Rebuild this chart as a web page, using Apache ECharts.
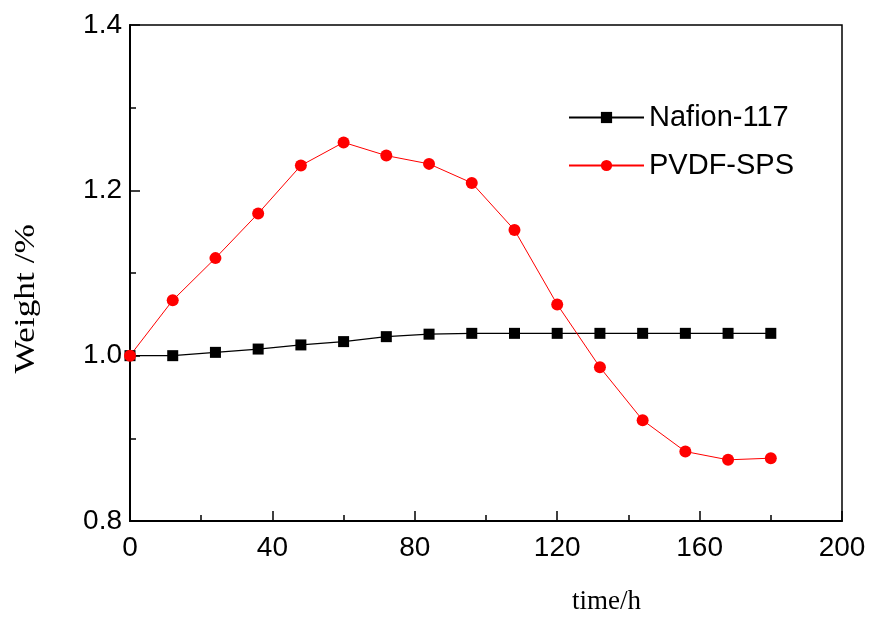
<!DOCTYPE html>
<html>
<head>
<meta charset="utf-8">
<script src="https://cdn.jsdelivr.net/npm/echarts@6/dist/echarts.min.js"></script>
<style>
html,body{margin:0;padding:0;background:#fff;}
#chart{width:870px;height:617px;}
</style>
</head>
<body>
<div id="chart"></div>
<script>
var timeH = [0, 12, 24, 36, 48, 60, 72, 84, 96, 108, 120, 132, 144, 156, 168, 180];
var nafion = [1.000, 1.000, 1.004, 1.008, 1.013, 1.017, 1.023, 1.026, 1.027, 1.027, 1.027, 1.027, 1.027, 1.027, 1.027, 1.027];
var pvdf = [1.000, 1.067, 1.118, 1.172, 1.230, 1.258, 1.242, 1.232, 1.209, 1.152, 1.062, 0.986, 0.922, 0.884, 0.874, 0.876];
var seriesNames = ['Nafion-117', 'PVDF-SPS'];
var xTitle = 'time/h';
var yTitle = 'Weight /%';

function pairs(xs, ys) { return xs.map(function (x, i) { return [x, ys[i]]; }); }

var chart = echarts.init(document.getElementById('chart'), null, {renderer: 'canvas'});
var sans = 'Liberation Sans, Arial, sans-serif';
var serif = 'Liberation Serif, Times New Roman, serif';

chart.setOption({
  animation: false,
  backgroundColor: '#fff',
  grid: {left: 130, right: 28, top: 25, bottom: 96, show: true, borderColor: '#000', borderWidth: 1.5, backgroundColor: 'transparent'},
  xAxis: {
    type: 'value', min: 0, max: 200, interval: 40,
    axisLine: {show: true, onZero: false, lineStyle: {color: '#000', width: 2}},
    axisTick: {show: true, inside: true, length: 10, lineStyle: {color: '#000', width: 1.5}},
    minorTick: {show: true, splitNumber: 2, length: 6, lineStyle: {color: '#000', width: 1.5}},
    splitLine: {show: false},
    axisLabel: {color: '#000', fontSize: 28, fontFamily: sans, margin: 13}
  },
  yAxis: {
    type: 'value', min: 0.8, max: 1.4, interval: 0.2,
    axisLine: {show: true, onZero: false, lineStyle: {color: '#000', width: 2}},
    axisTick: {show: true, inside: true, length: 10, lineStyle: {color: '#000', width: 1.5}},
    minorTick: {show: true, splitNumber: 2, length: 6, lineStyle: {color: '#000', width: 1.5}},
    splitLine: {show: false},
    axisLabel: {color: '#000', fontSize: 28, fontFamily: sans, margin: 8, formatter: function (v) { return v.toFixed(1); }}
  },
  legend: {
    orient: 'vertical', left: 563, top: 98,
    itemWidth: 75, itemHeight: 14, itemGap: 19,
    textStyle: {color: '#000', fontSize: 29, fontFamily: sans, lineHeight: 28},
    data: seriesNames
  },
  graphic: [
    {type: 'text', left: 572, top: 588, style: {text: xTitle, font: '27px ' + serif, fill: '#000'}},
    {type: 'text', left: 12, top: 224, rotation: Math.PI / 2, scaleX: 1.22, style: {text: yTitle, font: '29px ' + serif, fill: '#000'}}
  ],
  series: [
    {
      name: seriesNames[0], type: 'line', data: pairs(timeH, nafion),
      symbol: 'rect', symbolSize: 11,
      itemStyle: {color: '#000'}, lineStyle: {color: '#000', width: 1.3}
    },
    {
      name: seriesNames[1], type: 'line', data: pairs(timeH, pvdf),
      symbol: 'circle', symbolSize: 12,
      itemStyle: {color: '#ff0000'}, lineStyle: {color: '#ff0000', width: 1}
    }
  ]
});
</script>
</body>
</html>
